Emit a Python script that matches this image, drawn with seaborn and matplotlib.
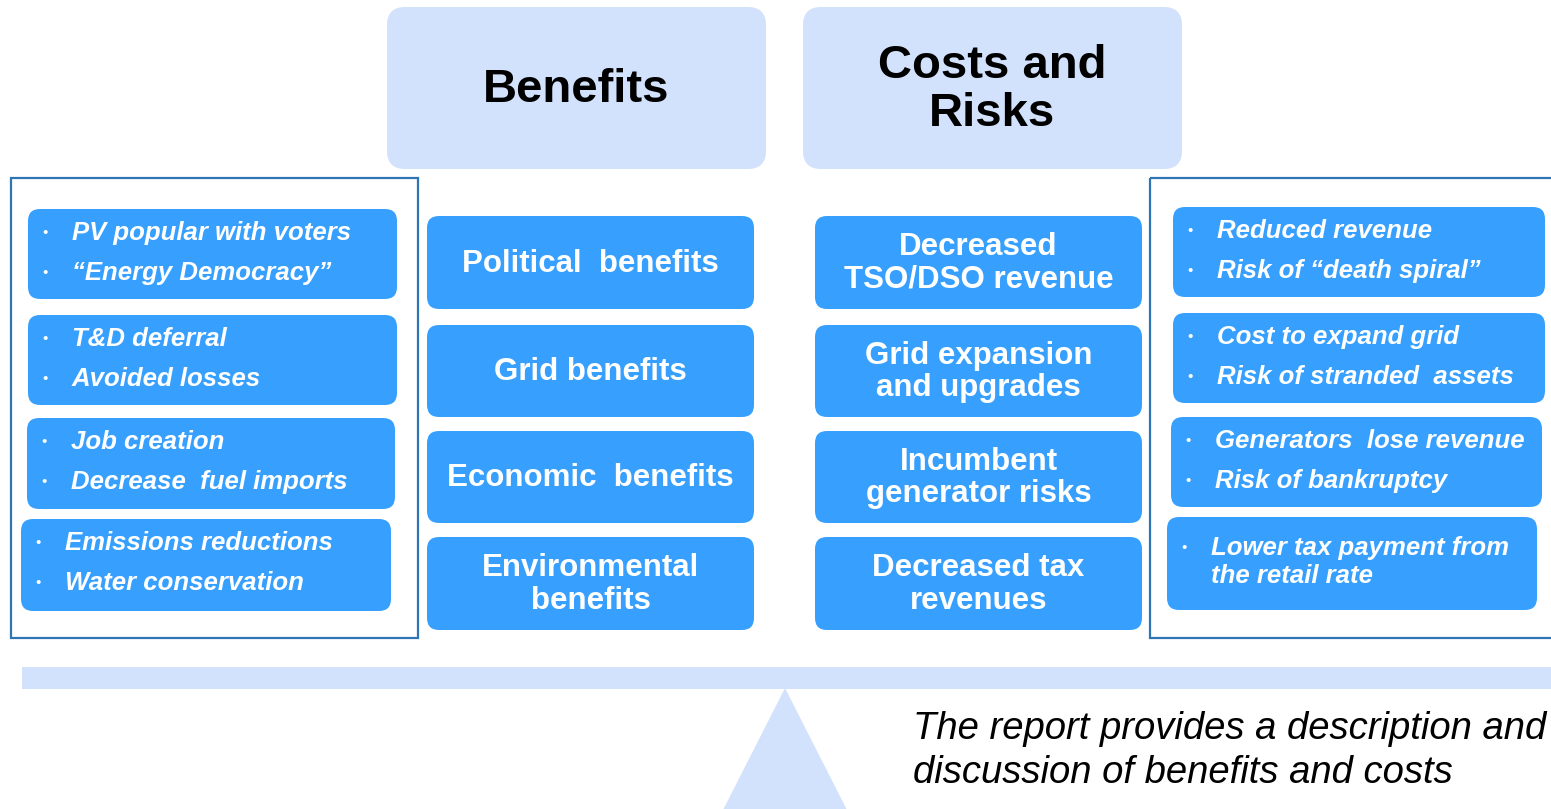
import matplotlib
matplotlib.use('Agg')
import matplotlib.pyplot as plt
from matplotlib.patches import FancyBboxPatch, Rectangle, Polygon
import seaborn as sns

sns.set_theme(style='white')
plt.rcParams['font.family'] = ['Liberation Sans', 'DejaVu Sans']

# ===================== 数据 =====================
headers = ['Benefits', 'Costs and\nRisks']
benefit_labels = ['Political  benefits', 'Grid benefits', 'Economic  benefits', 'Environmental\nbenefits']
cost_labels = ['Decreased\nTSO/DSO revenue', 'Grid expansion\nand upgrades', 'Incumbent\ngenerator risks',
               'Decreased tax\nrevenues']
benefit_bullets = [
    ['PV popular with voters', '\u201cEnergy Democracy\u201d'],
    ['T&D deferral', 'Avoided losses'],
    ['Job creation', 'Decrease  fuel imports'],
    ['Emissions reductions', 'Water conservation'],
]
cost_bullets = [
    ['Reduced revenue', 'Risk of \u201cdeath spiral\u201d'],
    ['Cost to expand grid', 'Risk of stranded  assets'],
    ['Generators  lose revenue', 'Risk of bankruptcy'],
    ['Lower tax payment from\nthe retail rate'],
]
note_lines = ['The report provides a description and', 'discussion of benefits and costs']

# ===================== 样式 =====================
BLUE = '#37a0ff'
LIGHT = '#d2e2fc'
EDGE = '#2e75b6'

W, H = 1551, 809
fig = plt.figure(figsize=(W / 100, H / 100), dpi=100)
ax = fig.add_axes([0, 0, 1, 1])
ax.set_xlim(0, W)
ax.set_ylim(H, 0)
ax.axis('off')


def rbox(x0, y0, x1, y1, color, r=12):
    ax.add_patch(FancyBboxPatch((x0, y0), x1 - x0, y1 - y0,
                                boxstyle=f'round,pad=0,rounding_size={r}',
                                fc=color, ec='none', zorder=2))


# 标题框
for (x0, x1), txt in zip([(387, 766), (803, 1182)], headers):
    rbox(x0, 7, x1, 169, LIGHT, r=18)
    ax.text((x0 + x1) / 2, 90, txt, ha='center', va='center', fontsize=34,
            fontweight='bold', color='black', linespacing=1.1, zorder=3)

# 外框
ax.add_patch(Rectangle((11, 178), 407, 460, fill=False, ec=EDGE, lw=1.6, zorder=1))
ax.add_patch(Rectangle((1150, 178), 420, 460, fill=False, ec=EDGE, lw=1.6, zorder=1))

# 中间两列
mid_rows = [(216, 309), (325, 417), (431, 523), (537, 630)]
for col_x, labels in [((427, 754), benefit_labels), ((815, 1142), cost_labels)]:
    for (y0, y1), txt in zip(mid_rows, labels):
        rbox(col_x[0], y0, col_x[1], y1, BLUE)
        ax.text((col_x[0] + col_x[1]) / 2, (y0 + y1) / 2 + 1, txt, ha='center', va='center',
                fontsize=22.5, fontweight='bold', color='white', linespacing=1.1, zorder=3)

# 要点框
left_boxes = [(28, 209, 397, 299), (28, 315, 397, 405), (27, 418, 395, 509), (21, 519, 391, 611)]
right_boxes = [(1173, 207, 1545, 297), (1173, 313, 1545, 403), (1171, 417, 1542, 507), (1167, 517, 1537, 610)]
for boxes, bullets in [(left_boxes, benefit_bullets), (right_boxes, cost_bullets)]:
    for (x0, y0, x1, y1), items in zip(boxes, bullets):
        rbox(x0, y0, x1, y1, BLUE)
        if len(items) == 2:
            ys = [y0 + 24, y0 + 64]
            va = 'center'
        else:
            ys = [y0 + 19]
            va = 'top'
        for yy, item in zip(ys, items):
            ax.text(x0 + 17, yy + (12 if va == 'top' else 0), '\u2022', ha='center', va='center',
                    fontsize=11, color='white', zorder=3)
            ax.text(x0 + 44, yy, item, ha='left', va=va, fontsize=18.5, fontstyle='italic',
                    fontweight='bold', color='white', linespacing=1.2, zorder=3)

# 天平
ax.add_patch(Rectangle((22, 667), 1540, 22, fc=LIGHT, ec='none', zorder=1))
ax.add_patch(Polygon([(785, 688), (722, 812), (848, 812)], closed=True, fc=LIGHT, ec='none', zorder=1))

for yy, line in zip([739, 783], note_lines):
    ax.text(913, yy, line, ha='left', va='baseline', fontsize=27.5, fontstyle='italic',
            color='black', zorder=3)

fig.savefig('out.png', dpi=100, facecolor='white')
